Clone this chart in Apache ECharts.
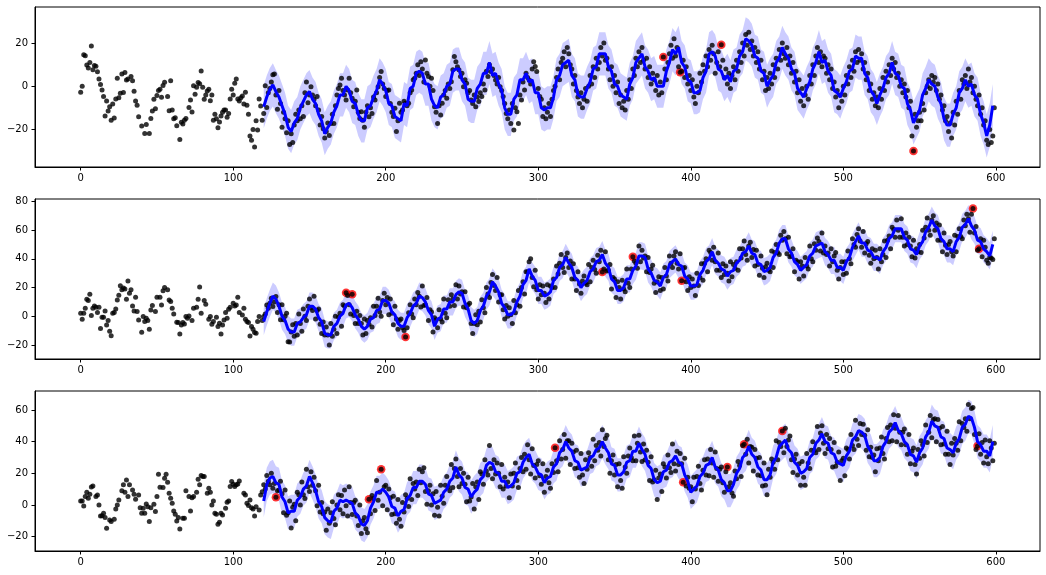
<!DOCTYPE html>
<html><head><meta charset="utf-8">
<script src="https://cdn.jsdelivr.net/npm/echarts@6/dist/echarts.min.js"></script>
<style>html,body{margin:0;padding:0;background:#fff}#c{width:1046px;height:575px}</style>
</head><body><div id="c"></div><script>
// ---------------- DATA ----------------
const X_TICKS = [0, 100, 200, 300, 400, 500, 600];
const Y_TICKS_1 = [-20, 0, 20];
const Y_TICKS_2 = [-20, 0, 20, 40, 60, 80];
const Y_TICKS_3 = [-20, 0, 20, 40, 60];
const PRED_START = 120;
const PRED_STEP = 2;

// observations, index = x (0..599), null = no point
const obs1 = [
-2.8,0,14.6,14.1,9.8,8.4,11,18.6,7.6,9.6,
9.3,6.7,3.3,0.8,-1.7,-4.7,-13.8,-6.8,-11.5,-9.5,
-15.7,-8.2,-14.7,-5.9,3.7,-5.3,-3.3,5.7,-2.9,6.4,
2.9,3.3,null,4.5,2.5,-2.3,-6.8,-8.8,-14.1,null,
-18.4,null,-21.9,-17.7,null,-21.9,-14.9,-11.5,-6,-10.4,
-4.3,-2,-1.4,-5.1,0.3,1.9,null,-4.8,-11.3,2.5,
-11,-15,-14.6,-18.3,null,-24.7,-16.7,-17.5,-15.7,-14.9,
null,-9.8,-6.4,-11.9,0.2,-3.7,-0.5,1.7,1.1,7.1,
-0.5,-6,-4,-2.2,-1.4,-6.7,-4,-15.7,-13,-15,
-19.2,-16.6,-13.8,-12.1,-11,-11,-14.4,-12.6,-5.9,-1.4,
-4,1.4,3.3,-5.9,-6.8,-5.3,-4.5,-8.2,-2.8,-8.8,
-13,-23.1,-25,-20,-28.1,-16,-20.3,-5.9,-9.1,-15.7,
-12.6,0.2,-9.8,-3,-1,2,5.3,5.7,-4,-10.7,
-2,-8,-19,-12,-15,-21.5,-16,-27,-22,-26,
-18,-13,-16,-11,-15,-9,-14,-3,2,-7.6,
-4,-0.2,-4,-6,-9,-4.7,-11,-18,-14,-19.7,
-24,-21,-17,-22.8,-17.2,-13,-17.2,-9,-4,-1,
0.6,3.7,-2,-4,-6.4,-1.7,3.7,-3,-5.6,-9.5,
-7,-1.7,-12,-14.9,-11.8,-15.7,-19,-12,-9,-14.1,
-10,-12.6,-5,-6.4,-3,-0.2,4,6.8,1,-1,
-4.7,-2,-1.7,-8,-12,-14,-10.2,-21,-16,-7.9,
-12,-11,-7,-7.9,-9,-7.9,-3,-1.7,3,3.7,
6,9.9,5,11.4,8,2,12.2,6,4.5,0,
3.7,-2,-9.5,-12,-17.2,-9,-13.3,-7.9,-4,-2,
-5.6,1,-1,2.1,7.6,13.8,11.4,9,7.6,4.5,
6,-0.2,3,1.4,-3,-2,-6.4,-8,-4,-9.5,
-5,-7.1,-3,-4.7,1,-1.7,7,4.5,9.9,6.8,
8,5,2.9,1,4,-0.2,-2,-4.7,-8,-12.6,
-15,-11,-17.2,-8,-20.3,-10,-11.8,-17.2,-4,-6.4,
2,-1.7,6,4,2.9,1,8,11.4,9.1,6.8,
-1,-4.7,-6,-14,-10,-15,-12,-8,-14,-6,
-2,0,4,8,3,11,13,16,9,18,
15,10,8,1,5,-2,-5,-8,-3,-10,
-6,-1,-7,0,5,1,9,4,13,8,
11,18,14,20,12,13,8,3,9,0,
5,-3,2,-8,-4,-10,-7,-11,-2,-6,
3,-1,8,5,13,9,16,11,18,12,
8,13,4,9,1,6,3,-2,5,-4,
2,-3,13.5,8,3,11,15,19,13,22,
14,18,9,6.5,7,12,4,9,1,5,
-2,3,-5,-8,0,-3,6,2,10,7,
14,9,17,12,19,15,6,11,16,9,
19.2,12,4,8,1,6,-1,5,9,3,
12,7,16,11,20,14,24,19,25,17,
21,14,18,11,16,8,12,3,7,-2,
4,-1,6,1,10,4,13,8,17,12,
20,15,13,18,10,14,6,11,2,7,
-3,3,-7,-1,-9,-4,0,-6,5,1,
10,5,14,18,11,16,9,14,13,6,
10,3,8,-1,2,-5,-2,-10,-4,-7,
0,-4,5,1,9,4,12,7,16,11,
17,12,15,8,11,3,6,-2,1,-6,
-3,-9,-5,-10,-1,-6,4,-2,7,2,
10,5,13,8,11,4,6,0,3,-3,
1,-5,-2,-10,-7,-23,-30,-13,-19,-16,
-12,-16,-8,-11,-3,0,3,-1,5,2,
4,-2,1,-6,-4,-11,-9,-16,-14,-21,
-17,-24,-12,-18,-7,-13,-2,-6,3,1,
5,-1,8,2,4,-3,0,-6,-9,-4,
-13,-10,-18,-16,-25,-27,-20,-26,-23,-10
];
// predicted mean, x = PRED_START + i*PRED_STEP
const pred1 = [
-9.5,-5,-1.5,0.6,-2.5,-5,-9,-13,-19,-21,
-17,-15,-10,-7,-4,-2.5,-6,-8,-13,-16,
-22,-19,-17,-12,-9,-4,-4,0,-2,-7,
-8,-13,-16,-16,-10,-9,-5,-2,3,1,
-2,-8,-9,-14,-15,-16,-8,-9,-1,0,
6,7,6,1,1,-6,-9,-10,-5,-4,
0,1,7,8,8,3,1,-6,-7,-7,
-1,1,6,6,11,5,6,1,-2,-10,
-13,-13,-6,-4,3,3,6,2,3,-3,
-3,-10,-11,-10,-10,-5,3,5,10,11,
12,5,3,-4,-5,-5,-1,2,8,9,
15,15,15,9,7,1,0,-4,-5,-6,
1,4,11,13,15,9,7,3,4,0,
0,0,7,11,17,15,18,11,9,3,
2,-3,-3,-2,4,7,15,16,14,8,
7,3,5,2,7,8,14,16,22,21,
19,14,13,7,6,0,3,5,11,13,
18,15,13,8,6,-1,-3,-5,-1,2,
8,11,16,11,12,7,5,-2,-3,-5,
-1,2,7,8,14,13,13,6,4,-2,
-4,-8,-4,-1,4,6,11,6,5,0,
-1,-8,-11,-17,-14,-11,-4,-1,3,1,
0,-5,-8,-15,-18,-18,-13,-10,-3,-1,
3,0,1,-4,-6,-13,-17,-23,-18,-9
];
const bandHalf1 = 10;
const anom1X = [382, 393, 420, 546];
const anom1Y = [13.5, 6.5, 19.2, -30];

const obs2 = [
2.1,-2.1,2.1,5.6,11.9,11,15.4,0.5,5.6,7.2,
6.3,2.6,6.3,-8.6,-0.7,-0.7,3.7,-6.1,-3,-10.5,
-13.6,2.1,2.6,5.1,11.4,14.7,21.3,18.5,19.6,18.9,
11.9,24.5,16.1,18.5,7.2,3.7,13.3,3.3,-2.6,null,
-11.2,-0.2,-3.7,-1.4,-3,-9.1,4.4,7.5,null,3.3,
13.3,null,13.3,7.9,17.8,20.1,null,18.5,11.4,10.3,
5.6,1.6,null,-4.2,-4.4,-12.4,-6.1,-4.4,-5.4,-0.2,
-1.4,0.2,null,-3,5.6,null,6.3,11.9,20.3,2.1,
null,11,8.4,null,-2.1,-0.2,-5.6,-3.7,null,-0.7,
-7.2,-4.9,-12.4,-6.1,-2.6,2.6,-1.4,4.9,6.3,null,
9.1,7.2,7.9,13.3,2.6,null,0.9,5.6,-2.1,-3.7,
-4.4,-13.8,-7.2,-9.1,-11.4,-11.9,-3.7,-0.2,null,-3,
-0.2,1.6,7.9,5.6,9,12.6,6.8,10,13.8,2.6,
8,-2.5,8,-2.5,0,2,-17.8,-18,-11,-6,
-14,-5,-13,1.5,-5,-10.5,5,0,-3,7,
12,6,4,14,-2,4,5,-5.5,-12,-4,
-13,-7.5,-13,-20,-5,-14,-9,0,-12,-0.5,
2,-7,8,7,16.4,14.5,8,1.5,15.4,0.5,
-5,3.5,-5,0.5,-5,-13,-2,-12,-3,-5.5,
-1,-7.5,7,0.5,7,12.5,3,0,11,16,
8,13,1,12,2,-6,7,-2,-9,-3,
-2,-8,-10,-14.5,-8,2.5,8,1.5,-1,12,
8,16.5,14,6.5,21,7.5,8,13,-3,4.5,
3,-11,-1,-2.5,-8,4.5,-2,-4,12,2,
-1,11.5,7,15,12,7.5,22,12,21,15.5,
17,6.5,17,6,8,9,-5,-12,-5,1,
-6,3.5,-4,11.5,6,2.5,20,15.5,13,23.5,
29,21.5,18,27,10,15,15,4.5,-2,7.5,
0,6,1,-5,11,2.5,8,18,7,20,
24,15.5,31,31,38,40,27,20.5,32,18.5,
12,22,15,21,16,9.5,22,12,21,20,
26,20,35,29.5,37,43,34,30.5,41,44,
34,38.5,26,36.5,26,18,31,22.5,16,24.5,
28,23,22,36,24,34,39,32.5,30,42.5,
38,46,30.8,33,45,31.5,32,36,19,27,
26,13,24,20,12,25,19,17,33,23,
20,33,41.4,38.5,37,33.5,49,38,46,40.5,
42,31,41,30.5,33,35.5,23,16.5,24,27.5,
18,27,19,34,28,24.5,42,37,34,42,
45,37,33,43.5,24.8,33.5,34,24,18,27.5,
20,26,21,14.5,30,21.5,27,36.5,25,37,
40,31,46,44.5,39,48,38,32,44,32,
27,36.5,29,35,30,24.5,38,27.5,36,33.5,
38,32,47,40.5,47,52.5,43,39,49,51.5,
41,46.5,35,46,36,28.5,42,33.5,27,34.5,
37,32,31,45.5,34,44.5,50,44.5,43,56.5,
53,59,54,43.5,55,41.5,42,47,31,39,
38,26,38,35,28,41,35,33,49,40,
38,50.5,46,54.5,52,45.5,58,44,49,43,
44,35,47,38,42,44.5,32,26,34,38,
29,38,30,45.5,40,36.5,54,50,48,57,
61,52.5,48,59,44,50.5,52,42.5,37,47,
40,46,41,33,47,38,43,52.5,41,53,
56,47,62,60.5,55,67,60,55,68,55,
49,58,50,55,49,41.5,53,40.5,47,45,
50,44.5,60,54.5,62,68.5,60,56.5,67,70,
60,65,53,63.5,53,45,58,49.5,43,50,
52,45,42,56.5,45,55.5,61,55.5,54,67,
63,71,68,58.5,71,75,58,62.5,46,47,
54,41.5,53,48,39,37,41,40.5,39.5,54
];
const pred2 = [
-3.7,3,9,14,12,7,0,-3,-9,-11,
-11,-5,-4,-1,1,7,7,5,-1,-4,
-12,-13,-13,-7,-5,0,2,8,9,6,
1,-2,-7,-9,-7,-2,-1,4,5,11,
11,9,3,1,-5,-7,-7,-1,2,7,
9,14,13,10,4,1,-7,-2,-1,5,
5,10,10,15,17,16,9,5,-3,-5,
-3,4,7,14,17,24,21,17,9,6,
1,1,3,10,14,22,25,33,28,25,
18,18,14,15,17,25,27,34,36,41,
37,34,27,25,20,23,25,31,33,38,
39,43,37,34,26,24,18,18,20,26,
26,32,35,42,42,41,33,30,25,24,
21,27,29,36,38,40,36,35,28,26,
21,21,22,29,32,38,40,45,39,37,
33,32,28,31,32,37,39,44,45,49,
44,43,37,36,31,32,34,41,44,51,
54,54,47,44,38,36,32,34,36,42,
44,49,50,51,45,43,39,39,34,34,
32,38,41,48,52,56,51,51,46,45,
41,41,39,45,48,54,56,61,61,61,
55,53,47,46,43,49,52,59,62,67,
63,61,54,52,47,47,45,52,55,62,
64,68,63,60,53,52,47,45,42,50
];
const bandHalf2 = 9.5;
const anom2X = [174, 178, 213, 342, 362, 394, 585, 589];
const anom2Y = [16.4, 15.4, -14.5, 30.8, 41.4, 24.8, 75, 47];

const obs3 = [
2.5,2.5,-0.6,5.3,8,4.2,6.8,11.4,12,null,
5.3,6.3,0,-7,-6.8,-5.3,-8,-14.8,null,-9.5,
-10.5,null,-9.1,-2.5,0,3.2,null,8.9,12.7,8,
15.8,5.3,12.7,null,9.5,6.8,3.6,null,6.3,-1.7,
-5.3,-2.1,-5.3,0.6,-1.1,-10.5,-1.7,null,0.4,-4.2,
5.3,19.4,11.2,null,11,16.9,19.4,14.3,7.4,4.2,
1.1,-3.8,-5.9,-10.1,-8,-15.2,null,-8.4,-8.4,8.9,
null,5.3,-3.8,4.6,5.3,null,8,16.2,12.7,18.6,
17.9,17.9,null,7.4,10.5,8,0,2.5,-5.3,-5.9,
-12.2,-11,-5.3,-6.3,null,-2.1,1.7,2.5,11.6,14.8,
13.1,11.6,12.7,13.3,15.2,null,null,7.4,6.3,1.1,
-0.4,3.2,-1.7,-2.5,-7,-1.1,null,-3.2,6.3,8.4,
12.7,10,18.6,15,12.7,20,10.5,13.5,4.9,8.9,
9.5,15,7,-5,9.5,-6.5,-5,2.5,-14.5,-1.5,
0.5,-10,8,6.5,0,14.5,6.5,4,22.5,11.5,
8.5,21,12.5,17.5,9,-0.5,12.5,-4.5,1.5,-5.5,
-4.5,-16,-2.5,-11.5,-5,2,-8.5,-12.5,0,6.5,
-3,6,-5.5,9.5,-0.5,-7,11.5,1.5,-6,1.5,
3,-7,-13,0,-18,-10,-8,-15,-17.5,3.6,
-5.5,6,4,-3.5,15.5,3,8,22.6,-0.5,11.5,
12.5,-3,10,4.5,-6,5.5,-5.5,-11.5,3.5,-9,
-13.5,1.5,-4.5,6.5,4,-1,16.5,3.5,13.5,10,
14.5,6,22.5,14,21,23.5,8.5,0.5,9,12.5,
0,7,-6.5,8.5,-1.5,-7,12.5,5.5,1,12.5,
18,11.5,9,25.5,11,23,29,18,11.5,23,
13.5,20,13,2,17.5,2.5,5,13.5,-2.5,11.5,
14.5,3.5,21,19.5,13,28.5,21.5,19,37.5,23,
16.5,28.5,19.5,26.5,20,11.5,25.5,10,17.5,12,
14.5,4.5,19.5,12,20,26.5,15.5,11,23,30,
21,32,22.5,38,28.5,19.5,35.5,25,17,25.5,
28,18.5,13,26,8,18,22,14,10.5,26,
20.5,36.1,28,21,40.5,29,35,44.5,29.5,40.5,
40.5,25.5,39,33.5,23,34.5,23.5,17.5,32.5,19,
13.5,28.5,22.5,33,30,24.5,41.5,28,37.5,34.5,
39.5,31,47.5,37,42,44,28.5,20,28,31.5,
19,25.5,11.5,26,15.5,10.5,30.5,24,20,31,
36,30,28,43.5,28,39,44,33.5,27.5,38.5,
28.5,34.5,27,15.5,30.5,14.5,16,22,3.5,17,
19.5,8.5,26,24,17,31.5,23.5,20.5,38.5,26,
21.5,34,25.5,32.5,26,14.3,29.5,12,17.5,10.5,
11.5,2,17.5,10,18,24.5,13.5,9.5,22,28.5,
19,29,18.5,35,26.5,17.5,33.5,23,15,22.5,
24,14,8,21,24,11.5,14,7.5,5.5,21.5,
16.5,27.5,25,18,37.5,38.4,32,41.5,26.5,37,
36.5,21.5,35,29.5,19,30,18.5,12,26.5,12.5,
6.5,22.5,17.5,29,27,22.5,40.5,28.5,39.5,37,
46.8,33,48.5,37,41,43.5,28.5,20.5,29,32,
19,26,12.5,27.5,17.5,12.5,32.5,26.5,23,34.5,
40,34.5,33,49.5,35,45.5,50,39,32.5,44.5,
35.5,42,35,24,39.5,24.5,27,33.5,15.5,28,
29.5,18.5,36,35,29,44.5,37.5,35,53.5,41.5,
37.5,51.5,44.5,51,44,34.5,47.5,30.5,36.5,30,
31.5,21,35.5,28,36,43,32.5,29,42,49,
40,50.5,40.5,57,48.5,40,56.5,46,38,46,
48,38,32,44.5,26,34,36,25.5,19.5,35,
29.5,40.5,38,31,50.5,39.5,46,56.5,42.5,54,
54.5,40,54,48.5,38,49.5,38.5,32,46.5,32,
25.5,39,31.5,42,39,34.5,52.5,40.5,51.5,49,
54.5,46.5,63.5,54.5,61,61.5,44.5,35,37.3,45,
32,39.5,26.5,41,30.5,26,40.5,36,28,39
];
const pred3 = [
2.5,13,17,18,14,13,5,2,-5,-4,
-4,3,5,10,12,18,14,9,2,-1,
-8,-10,-11,-4,-2,3,2,3,2,1,
-5,-7,-12,-13,-10,-2,2,8,8,10,
8,5,-1,-2,-7,-4,-3,4,6,11,
11,15,15,13,7,6,1,2,3,8,
10,15,17,24,19,17,11,10,5,8,
10,16,18,25,27,26,21,20,15,15,
11,12,14,20,21,27,30,32,26,24,
20,19,14,17,18,24,26,33,35,40,
36,34,28,27,22,23,24,30,31,35,
36,40,36,33,26,25,19,19,21,27,
28,34,34,39,35,32,25,23,16,14,
15,21,22,27,28,31,27,26,19,15,
8,10,12,18,20,25,26,30,24,22,
16,14,9,9,13,20,23,30,32,37,
32,30,24,22,16,16,19,27,30,37,
39,41,35,33,27,25,20,21,23,30,
32,39,41,45,40,39,33,32,27,26,
25,31,34,41,43,47,46,44,37,34,
28,28,30,37,40,46,48,52,47,45,
40,38,32,31,27,33,36,43,46,53,
50,49,43,42,36,35,33,39,42,49,
51,56,55,49,40,38,34,34,31,40
];
const bandHalf3 = 10.5;
const anom3X = [128, 189, 197, 311, 395, 424, 435, 460, 588];
const anom3Y = [4.9, 3.6, 22.6, 36.1, 14.3, 24, 38.4, 46.8, 37.3];

// ---------------- LAYOUT ----------------
const PANELS = [
  { obs: obs1, pred: pred1, half: bandHalf1, ax: anom1X, ay: anom1Y, yt: Y_TICKS_1, top: 7, min: -37.4, max: 36.7 },
  { obs: obs2, pred: pred2, half: bandHalf2, ax: anom2X, ay: anom2Y, yt: Y_TICKS_2, top: 199, min: -29.8, max: 81.7 },
  { obs: obs3, pred: pred3, half: bandHalf3, ax: anom3X, ay: anom3Y, yt: Y_TICKS_3, top: 391, min: -29.1, max: 72 }
];
const FONT = { fontFamily: 'DejaVu Sans', fontSize: 10, color: '#000' };
const fmt = v => String(v).replace('-', '\u2212');

const grids = [], xAxes = [], yAxes = [], series = [];
PANELS.forEach((p, k) => {
  grids.push({ left: 35, top: p.top, width: 1005, height: 160, show: true, borderColor: '#000', borderWidth: 1, backgroundColor: 'transparent' });
  xAxes.push({
    type: 'value', gridIndex: k, min: -29.95, max: 628.95, position: 'bottom',
    axisLine: { show: true, onZero: false, lineStyle: { color: '#000', width: 1 } }, splitLine: { show: false },
    axisTick: { show: true, length: 3.5, lineStyle: { color: '#000' }, customValues: X_TICKS },
    axisLabel: Object.assign({ margin: 6, customValues: X_TICKS, formatter: fmt }, FONT)
  });
  yAxes.push({
    type: 'value', gridIndex: k, min: p.min, max: p.max, position: 'left',
    axisLine: { show: true, onZero: false, lineStyle: { color: '#000', width: 1 } }, splitLine: { show: false },
    axisTick: { show: true, length: 3.5, lineStyle: { color: '#000' }, customValues: p.yt },
    axisLabel: Object.assign({ margin: 7, customValues: p.yt, formatter: fmt }, FONT)
  });
  const predPts = p.pred.map((v, i) => [PRED_START + i * PRED_STEP, v]);
  const obsPts = [];
  p.obs.forEach((v, i) => { if (v !== null) obsPts.push([i, v]); });
  const anomPts = p.ax.map((x, i) => [x, p.ay[i]]);
  series.push({
    type: 'custom', xAxisIndex: k, yAxisIndex: k, z: 1, silent: true,
    data: [[PRED_START, p.pred[0]]],
    renderItem: function (params, api) {
      const up = [], lo = [];
      p.pred.forEach((v, i) => {
        const x = PRED_START + i * PRED_STEP;
        up.push(api.coord([x, v + p.half]));
        lo.push(api.coord([x, v - p.half]));
      });
      return { type: 'polygon', shape: { points: up.concat(lo.reverse()) }, style: { fill: 'rgba(0,0,255,0.2)', stroke: null } };
    }
  });
  series.push({ type: 'scatter', xAxisIndex: k, yAxisIndex: k, z: 2, data: anomPts, symbolSize: 8.5, itemStyle: { color: '#ff0000' }, silent: true });
  series.push({ type: 'scatter', xAxisIndex: k, yAxisIndex: k, z: 3, data: obsPts, symbolSize: 5, itemStyle: { color: '#000' }, silent: true });
  series.push({ type: 'line', xAxisIndex: k, yAxisIndex: k, z: 4, data: predPts, symbol: 'none', lineStyle: { color: '#0000ff', width: 3 }, silent: true });
});

const chart = echarts.init(document.getElementById('c'), null, { renderer: 'canvas' });
chart.setOption({ animation: false, backgroundColor: '#fff', grid: grids, xAxis: xAxes, yAxis: yAxes, series: series });
</script></body></html>
